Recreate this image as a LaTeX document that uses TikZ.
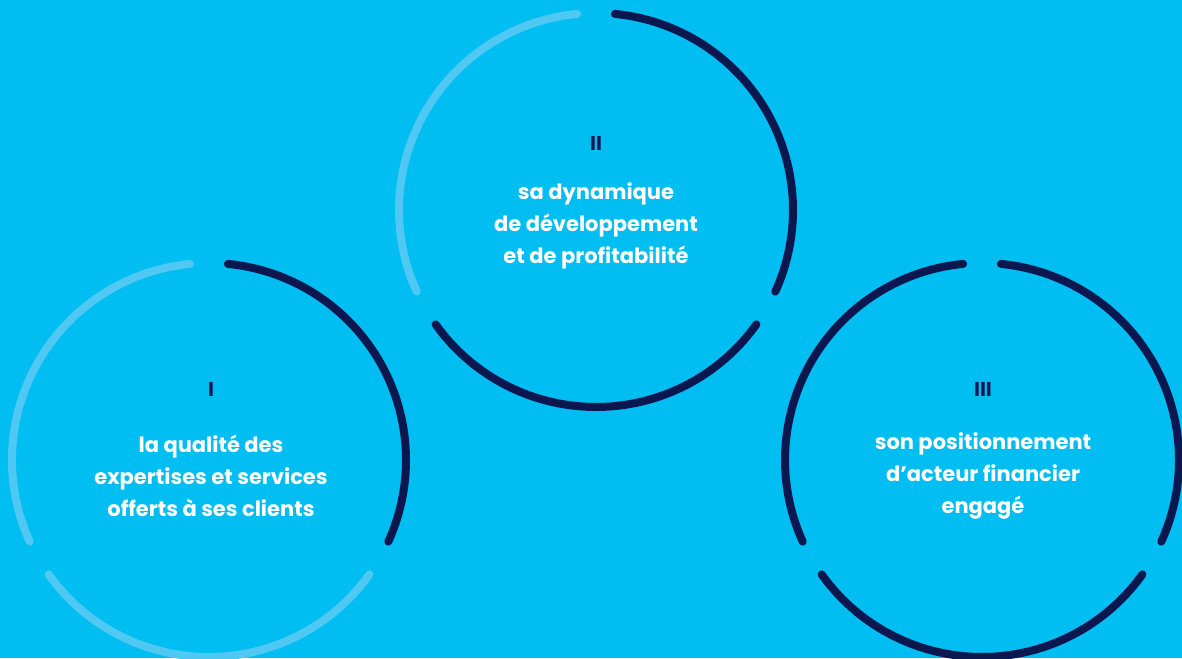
\documentclass[tikz,border=0pt]{standalone}
\usepackage{fontspec}
\setmainfont{Poppins}
\usetikzlibrary{positioning}
\definecolor{bgblue}{HTML}{00BDF2}
\definecolor{navy}{HTML}{0B1850}
\definecolor{pale}{HTML}{4FC9F4}
\begin{document}
\begin{tikzpicture}
[x=1pt,y=1pt,
 darkarc/.style={draw=navy,line width=8pt,line cap=round},
 lightarc/.style={draw=pale,line width=8pt,line cap=round},
 num/.style={text=navy,font=\bfseries\fontsize{20}{22}\selectfont,inner sep=0pt},
 txt/.style={text=white,align=center,inner sep=0pt,font=\bfseries\fontsize{21}{32}\selectfont}]
\fill[bgblue] (0,0) rectangle (1182,658);
\useasboundingbox (0,0) rectangle (1182,658);
\coordinate (c1) at (209,198);
\coordinate (c2) at (596,448);
\coordinate (c3) at (982,198);
% circle I
\draw[darkarc] ([shift={(-24.5:197)}]c1) arc[start angle=-24.5,end angle=84.5,radius=197pt];
\draw[lightarc] ([shift={(95.5:197)}]c1) arc[start angle=95.5,end angle=204.5,radius=197pt];
\draw[lightarc] ([shift={(215.5:197)}]c1) arc[start angle=215.5,end angle=324.5,radius=197pt];
% circle II
\draw[darkarc] ([shift={(-24.5:197)}]c2) arc[start angle=-24.5,end angle=84.5,radius=197pt];
\draw[lightarc] ([shift={(95.5:197)}]c2) arc[start angle=95.5,end angle=204.5,radius=197pt];
\draw[darkarc] ([shift={(215.5:197)}]c2) arc[start angle=215.5,end angle=324.5,radius=197pt];
% circle III
\draw[darkarc] ([shift={(-24.5:197)}]c3) arc[start angle=-24.5,end angle=84.5,radius=197pt];
\draw[darkarc] ([shift={(95.5:197)}]c3) arc[start angle=95.5,end angle=204.5,radius=197pt];
\draw[darkarc] ([shift={(215.5:197)}]c3) arc[start angle=215.5,end angle=324.5,radius=197pt];
\node[txt] (t1) at (211,182) {la qualité des\\expertises et services\\offerts à ses clients};
\node[txt] (t2) at (596,432) {sa dynamique\\de développement\\et de profitabilité};
\node[txt] (t3) at (983,182) {son positionnement\\d’acteur financier\\engagé};
\node[num] (n1) at (211,269) {I};
\node[num] (n2) at (596,515) {II};
\node[num] (n3) at (983,269) {III};
\end{tikzpicture}
\end{document}
